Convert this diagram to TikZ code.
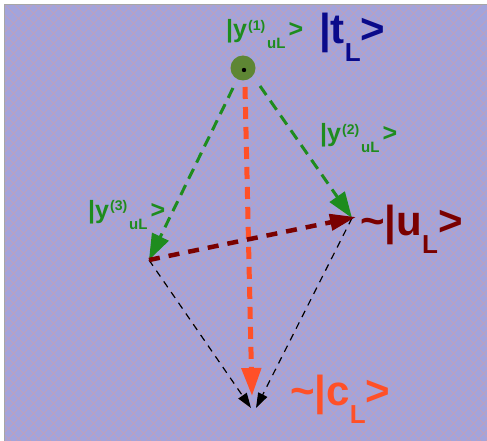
\documentclass[tikz,border=0pt]{standalone}
\usepackage{fontspec}
\setmainfont{Liberation Sans}
\usetikzlibrary{arrows.meta}
\definecolor{bgfill}{HTML}{A2A4DC}
\definecolor{hatch}{HTML}{C8A0B2}
\definecolor{ygreen}{HTML}{1E8C1E}
\definecolor{dotgreen}{HTML}{5E8634}
\definecolor{tnavy}{HTML}{0A0A8A}
\definecolor{udark}{HTML}{7A0000}
\definecolor{corange}{HTML}{FF5028}
\newcommand{\ylabtext}[1]{|y\kern1pt\raisebox{7.5pt}{\fontsize{14}{14}\selectfont(#1)}\kern2pt\raisebox{-11pt}{\fontsize{15}{15}\selectfont uL}\kern3pt>}
\newcommand{\biglabtext}[2]{#1|#2\raisebox{-18pt}{\fontsize{26}{26}\selectfont L}>}
\tikzset{
  garrow/.style={ygreen, line width=3pt, dash pattern=on 11pt off 7pt, -{Triangle[length=26pt,width=18pt]}},
  uarrow/.style={udark, line width=4.5pt, dash pattern=on 11pt off 9pt, -{Triangle[length=26pt,width=16pt]}},
  carrow/.style={corange, line width=5pt, dash pattern=on 12pt off 8pt, -{Triangle[length=28pt,width=19pt]}},
  karrow/.style={black, line width=1.2pt, dash pattern=on 7pt off 6pt, -{Triangle[length=15pt,width=10pt]}},
  ylab/.style={ygreen, font=\bfseries\fontsize{25}{25}\selectfont, inner sep=0pt, anchor=base west},
  biglab/.style={font=\bfseries\fontsize{42}{42}\selectfont, inner sep=0pt, anchor=base west},
}
\begin{document}
\begin{tikzpicture}[x=1pt,y=-1pt]
\useasboundingbox (0,0) rectangle (487,441);
\fill[white] (0,0) rectangle (487,441);
\fill[bgfill] (4,5) rectangle (487,441);
\begin{scope}
\clip (4,5) rectangle (487,441);
\foreach \i in {-45,...,45} {
  \draw[hatch, line width=0.6pt] (\i*10,0) -- ++(450,450);
  \draw[hatch, line width=0.6pt] (\i*10+487,0) -- ++(-450,450);
}
\end{scope}
\draw[gray!70, line width=1pt] (4,441) -- (4,5) -- (487,5);

% points
\coordinate (y3) at (149,260);
\coordinate (y2) at (352,218);

% black dashed
\draw[karrow] (y3) -- (251,408);
\draw[karrow] (y2) -- (256,408);
% orange
\draw[carrow] (245,87) -- (252,396);
% green
\node[circle, fill=dotgreen, minimum size=25pt, inner sep=0pt] (dot) at (243,68) {};
\fill[black] (244,70) circle (2.2pt);
\draw[garrow] (233,88) -- (y3);
\draw[garrow] (260,86) -- (y2);
% dark red
\draw[uarrow] (y3) -- (356,217);

% labels
\node[ylab] (l1) at (226,38) {\ylabtext{1}};
\node[ylab] (l2) at (320,142) {\ylabtext{2}};
\node[ylab] (l3) at (88,218) {\ylabtext{3}};
\node[biglab, tnavy] (tl) at (319,44) {\biglabtext{}{t}};
\node[biglab, udark] (ul) at (360,235) {\biglabtext{\char`~}{u}};
\node[biglab, corange] (cl) at (290,405) {\biglabtext{\char`~}{c}};
\end{tikzpicture}
\end{document}
